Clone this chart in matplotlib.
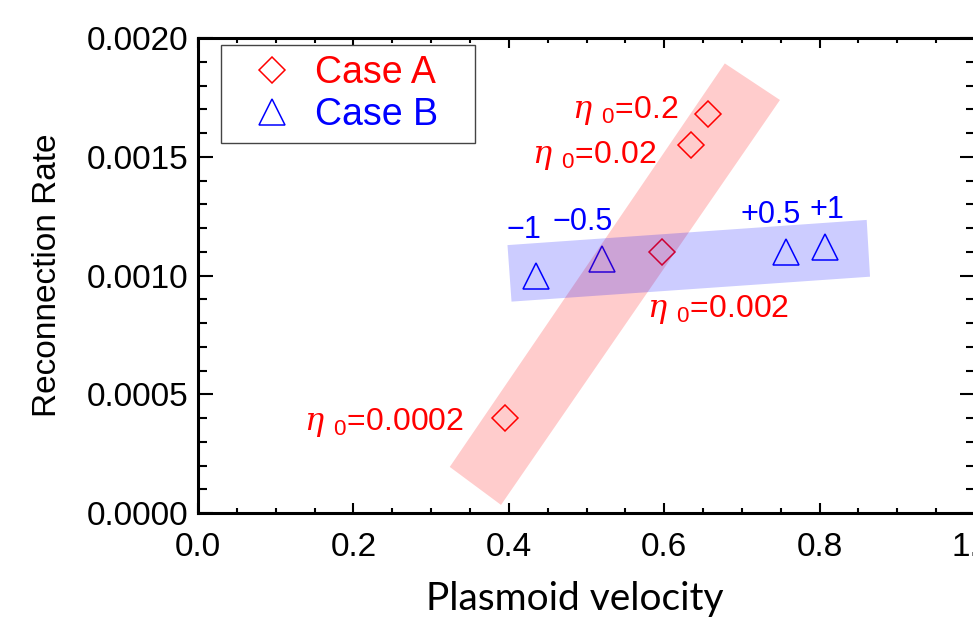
import matplotlib.pyplot as plt
from matplotlib.patches import Polygon, Rectangle
from matplotlib.ticker import MultipleLocator, FormatStrFormatter

plt.rcParams['font.family'] = ['Liberation Sans', 'DejaVu Sans']
plt.rcParams['mathtext.fontset'] = 'custom'
plt.rcParams['mathtext.rm'] = 'Liberation Sans'
plt.rcParams['mathtext.it'] = 'DejaVu Serif:italic'

# Case A (eta_0 scan)
case_a_v = [0.395, 0.597, 0.634, 0.657]
case_a_rate = [0.00040, 0.00110, 0.00155, 0.00168]
case_a_labels = ['0.0002', '0.002', '0.02', '0.2']

# Case B
case_b_v = [0.435, 0.520, 0.757, 0.807]
case_b_rate = [0.00100, 0.00107, 0.00110, 0.00112]
case_b_labels = ['\u22121', '\u22120.5', '+0.5', '+1']

# shaded bands, corners in data units
band_a = [(0.324, 0.000194), (0.390, 0.000034), (0.749, 0.001739), (0.678, 0.001893)]
band_b = [(0.4035, 0.000890), (0.8649, 0.000995), (0.8606, 0.001234), (0.3983, 0.001128)]

# label offsets in pixels (ha, dx, dy)
a_offsets = [('right', -41, -12), ('center', 56, -65), ('right', -34, -18), ('right', -30, -4)]
b_offsets = [(-12, 37), (-19, 29), (-16, 29), (2, 29)]

fig = plt.figure(figsize=(9.73, 6.17), dpi=100)
ax = fig.add_axes([198/973, 104/617, 777/973, 475/617])

la, = ax.plot(case_a_v, case_a_rate, 'D', ms=13.5, mfc='none', mec='red', mew=1.1, zorder=2)
lb, = ax.plot(case_b_v, case_b_rate, '^', ms=19, mfc='none', mec='blue', mew=1.1, zorder=2)

ax.add_patch(Polygon(band_a, closed=True, fc='red', alpha=0.2, lw=0, zorder=3))
ax.add_patch(Polygon(band_b, closed=True, fc='blue', alpha=0.2, lw=0, zorder=4))

for v, r, lab, (ha, dx, dy) in zip(case_a_v, case_a_rate, case_a_labels, a_offsets):
    ax.annotate(r'$\eta\ _{0}$=' + lab, (v, r), xytext=(dx, dy), textcoords='offset pixels',
                ha=ha, va='baseline', color='red', fontsize=23, zorder=5)

for v, r, lab, (dx, dy) in zip(case_b_v, case_b_rate, case_b_labels, b_offsets):
    ax.annotate(lab, (v, r), xytext=(dx, dy), textcoords='offset pixels',
                ha='center', va='baseline', color='blue', fontsize=22, zorder=5)

ax.set_xlim(0, 1)
ax.set_ylim(0, 0.002)
ax.xaxis.set_major_locator(MultipleLocator(0.2))
ax.xaxis.set_minor_locator(MultipleLocator(0.05))
ax.yaxis.set_major_locator(MultipleLocator(0.0005))
ax.yaxis.set_minor_locator(MultipleLocator(0.0001))
ax.xaxis.set_major_formatter(FormatStrFormatter('%.1f'))
ax.yaxis.set_major_formatter(FormatStrFormatter('%.4f'))

ax.tick_params(which='both', direction='in', top=True, right=True, width=1.5, labelsize=24)
ax.tick_params(axis='x', which='major', length=7.2, pad=14)
ax.tick_params(axis='x', which='minor', length=3.6)
ax.tick_params(axis='y', which='major', length=10.8, pad=7)
ax.tick_params(axis='y', which='minor', length=6.5)
for s in ax.spines.values():
    s.set_linewidth(2.2)

ax.set_xlabel('Plasmoid velocity', family=['Lato', 'DejaVu Sans'], fontsize=28, va='baseline')
ax.xaxis.set_label_coords((573.5 - 198) / 775, (513 - 610) / 475)
ax.set_ylabel('Reconnection Rate', fontsize=24, va='center')
ax.yaxis.set_label_coords((48 - 198) / 775, 0.5)

# legend box and entries
ax.add_patch(Rectangle(((221 - 198) / 775, (513 - 143) / 475), 253 / 775, 98 / 475,
                       transform=ax.transAxes, fc='white', ec='#444444', lw=1.0, zorder=6))
ax.legend([la, lb], ['Case A', 'Case B'], loc='center left',
          bbox_to_anchor=((258 - 198) / 775, (513 - 94) / 475), frameon=False,
          fontsize=27, labelcolor=['red', 'blue'], handlelength=0.75, handletextpad=0.77,
          labelspacing=0.18, borderpad=0, borderaxespad=0).set_zorder(7)

fig.savefig('out.png', dpi=100)
